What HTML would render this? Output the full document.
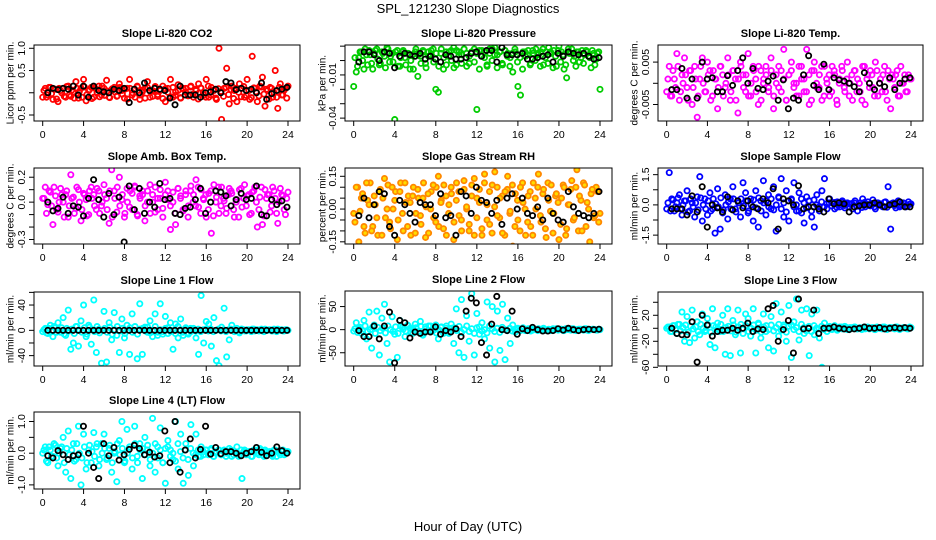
<!DOCTYPE html>
<html><head><meta charset="utf-8"><style>
body{margin:0;background:#fff;}
svg{display:block;font-family:"Liberation Sans",sans-serif;}
</style></head><body>
<svg id="fig" width="936" height="540" viewBox="0 0 936 540">
<text x="468" y="13" text-anchor="middle" font-size="13">SPL_121230  Slope Diagnostics</text>
<text x="468" y="531" text-anchor="middle" font-size="13">Hour of Day (UTC)</text>
</svg>
<script>
const xTicks=[0,4,8,12,16,20,24];
const co2Vals=[-0.1,0.1,-0.05,0.12,-0.15,0.08,-0.2,0.05,0.1,-0.1,0.15,-0.08,0.02,0.25,-0.12,0.1,0.3,-0.18,0.05,0.12,-0.1,0.08,0.15,-0.05,0.1,0.28,-0.1,0.05,0.12,-0.08,0.2,0.05,-0.12,0.1,0.3,-0.05,0.08,0.15,-0.15,0.02,0.1,0.25,-0.1,0.05,0.12,-0.08,0.05,0.15,-0.2,0.1,0.3,-0.1,0.02,0.18,-0.12,0.08,0.1,-0.05,0.15,-0.1,0.05,0.2,0.1,-0.05,0.3,-0.1,0.12,0.05,-0.15,1.0,-0.6,0.1,0.55,-0.25,0.15,0.05,-0.2,0.2,0.1,-0.1,0.3,-0.15,0.82,0.1,-0.2,0.15,0.35,-0.3,0.05,0.12,-0.1,0.5,-0.35,0.2,-0.05,0.1,0.15];
const co2Core=[0.05,-0.1,0.12,-0.02,0.08,-0.14,0.1,0.0,-0.08,0.14,-0.05,0.06,-0.12,0.1,0.03,-0.1,0.13,-0.04,0.07,-0.13,0.11,0.01,-0.09,0.15,-0.06,0.04,-0.11,0.09,0.02,-0.07,0.12,-0.03,0.08,-0.14,0.1,0.0,-0.1,0.13,-0.05,0.06,-0.12,0.11,0.03,-0.08,0.14,-0.04,0.07,-0.13,0.09,0.01,-0.09,0.12,-0.06,0.05,-0.11,0.1,0.02,-0.07,0.13,-0.03,0.08,-0.14,0.11,0.0,-0.1,0.15,-0.05,0.06,-0.12,0.09,0.03,-0.08,0.12,-0.04,0.07,-0.13,0.1,0.01,-0.09,0.14,-0.06,0.05,-0.11,0.11,0.02,-0.07,0.13,-0.03,0.08,-0.14,0.1,0.0,-0.1,0.12,-0.05,0.06,-0.12];
const co2Black=[0,0.1,0.07,0.1,0.08,0.15,-0.05,0.15,-0.1,0.15,0.05,0.02,0.0,0.08,0.05,0.1,-0.22,0.08,0.0,0.22,0.05,0.1,0.08,0.05,-0.12,-0.27,0.15,-0.05,-0.05,-0.05,-0.1,0.0,0.02,0.08,0.0,0.25,0.22,0.07,0.1,0.05,0.08,0.0,0.22,-0.15,-0.02,0.05,0.08,0.12];
const presVals=[-0.018,-0.008,0.002,0.006,-0.006,0.004,0.007,-0.002,0.005,0.008,-0.003,0.006,0.003,0.009,-0.001,0.005,-0.041,0.007,-0.004,0.006,0.002,0.005,-0.006,0.004,0.006,-0.011,0.003,0.007,-0.002,0.006,0.004,0.008,-0.02,-0.022,0.005,-0.006,0.006,0.003,0.007,0.009,-0.003,0.006,0.004,0.008,0.005,-0.002,0.006,0.008,-0.034,0.007,0.003,0.006,-0.004,0.005,0.008,0.009,0.004,0.006,-0.003,0.007,0.005,0.002,-0.008,0.006,-0.018,-0.024,0.006,0.003,0.007,-0.002,0.005,0.008,0.004,0.006,-0.003,0.006,0.009,0.005,0.007,-0.004,0.01,0.006,-0.006,-0.012,0.005,0.008,0.003,0.006,-0.001,0.007,0.004,0.006,0.002,0.007,-0.003,0.005,-0.02];
const presCore=[0.002,-0.004,0.006,0.0,0.008,-0.003,0.004,-0.006,0.007,0.001,-0.002,0.005,-0.005,0.008,0.003,-0.001,0.006,-0.004,0.002,0.007,-0.003,0.005,0.0,-0.006,0.008,0.004,-0.002,0.006,-0.005,0.003,0.007,-0.001,0.005,-0.004,0.008,0.002,-0.003,0.006,0.0,-0.005,0.007,0.004,-0.002,0.008,-0.004,0.003,0.006,-0.001,0.005,-0.006,0.007,0.002,-0.003,0.008,0.0,0.004,-0.005,0.006,-0.002,0.007,0.003,-0.004,0.005,0.008,-0.001,0.002,-0.006,0.006,0.004,-0.003,0.007,0.0,0.005,-0.004,0.008,0.002,-0.002,0.006,-0.005,0.003,0.007,-0.001,0.004,-0.003,0.008,0.005,0.0,-0.004,0.006,0.002,-0.002,0.007,0.003,-0.005,0.005,0.001,0.006];
const presBlack=[-0.001,0.006,0.006,0.004,0.0,0.006,0.005,-0.005,0.003,0.005,0.004,0.003,0.005,0.001,0.003,0.001,-0.001,0.004,0.003,0.001,0.001,0.002,0.005,0.006,0.003,0.007,0.007,-0.001,0.009,0.004,0.004,0.004,0.005,0.001,0.001,0.002,0.003,0.004,-0.001,0.005,0.003,0.006,0.005,0.004,0.005,0.003,0.001,0.002];
const tempVals=[-0.002,0.004,-0.003,0.001,0.007,-0.004,0.002,0.006,-0.001,0.003,-0.005,0.004,-0.008,0.001,0.006,-0.002,0.005,0.003,-0.003,0.001,-0.006,0.004,0.002,-0.001,0.006,-0.004,0.003,0.001,-0.007,0.005,0.002,-0.002,0.007,-0.003,0.004,0.001,-0.005,0.003,0.0,0.004,-0.002,0.006,-0.006,0.002,-0.001,0.003,0.008,-0.004,0.002,0.005,0.0,-0.003,0.004,0.001,-0.002,0.008,-0.005,0.003,0.005,-0.001,0.002,-0.004,0.004,0.0,-0.003,0.004,0.002,-0.005,0.001,0.003,-0.002,0.005,0.0,-0.004,0.003,0.001,-0.002,0.004,-0.005,0.002,0.003,-0.001,0.005,-0.003,0.001,0.002,-0.002,0.003,-0.006,0.001,0.002,-0.003,0.004,0.0,-0.002,0.002,0.001];
const tempCore=[0.001,-0.003,0.003,-0.001,0.004,-0.002,0.0,0.002,-0.004,0.003,-0.001,0.001,-0.003,0.004,0.0,-0.002,0.002,-0.004,0.003,0.001,-0.001,0.004,-0.003,0.0,0.002,-0.002,0.003,-0.004,0.001,0.004,-0.001,0.002,-0.003,0.0,0.003,-0.002,0.004,-0.004,0.001,0.002,-0.001,0.003,-0.003,0.0,0.004,-0.002,0.001,-0.004,0.002,0.003,-0.001,0.0,-0.003,0.004,0.001,-0.002,0.002,-0.004,0.003,0.0,-0.001,0.004,-0.003,0.001,0.002,-0.002,0.003,-0.004,0.0,0.004,-0.001,0.001,-0.003,0.002,0.003,-0.002,0.0,-0.004,0.004,0.001,-0.001,0.002,-0.003,0.003,0.0,-0.002,0.004,-0.004,0.001,0.002,-0.001,0.003,-0.003,0.0,0.002,-0.002,0.001];
const tempBlack=[-0.0015,-0.0015,0.0035,-0.0035,0.001,-0.0035,0.005,0.001,0.0013,-0.002,-0.002,0.0018,-0.0005,0.003,0.006,0.0,0.0035,-0.0012,-0.0015,0.0005,0.0017,-0.004,0.0008,-0.006,-0.0035,-0.004,0.002,0.0065,-0.0005,-0.0015,0.0045,-0.0015,0.0013,0.0008,0.0005,0.0,-0.0008,-0.002,0.0025,0.0,-0.0015,0.0,-0.0008,0.0013,-0.0015,0.0,0.001,0.0013];
const boxVals=[0.03,0.12,-0.02,0.08,-0.18,0.05,-0.08,0.11,0.0,0.06,-0.12,0.22,0.04,-0.05,0.1,-0.15,0.07,0.02,-0.1,0.12,0.06,-0.06,0.09,-0.03,0.14,0.03,-0.17,0.26,0.09,-0.08,0.2,0.02,-0.12,0.11,-0.04,0.07,0.13,-0.1,0.05,0.09,-0.15,0.0,0.14,0.06,-0.08,0.03,0.1,-0.05,0.16,0.02,-0.22,0.08,-0.18,0.11,0.05,-0.07,0.09,-0.03,0.13,0.06,0.18,-0.04,0.1,0.02,-0.12,0.07,-0.25,0.14,0.04,-0.09,0.12,0.01,-0.05,0.11,0.07,-0.12,0.02,0.1,-0.04,0.14,0.05,-0.1,0.08,0.12,-0.2,0.04,-0.18,0.1,0.06,-0.08,0.12,0.03,-0.17,0.11,0.05,-0.1,0.08];
const boxCore=[0.03,-0.09,0.09,-0.03,0.12,-0.06,0.0,0.06,-0.12,0.09,-0.03,0.03,-0.09,0.12,0.0,-0.06,0.06,-0.11,0.09,0.03,-0.03,0.11,-0.09,0.0,0.06,-0.06,0.09,-0.12,0.03,0.12,-0.03,0.06,-0.09,0.0,0.09,-0.06,0.12,-0.11,0.03,0.06,-0.03,0.09,-0.09,0.0,0.12,-0.06,0.03,-0.12,0.06,0.09,-0.03,0.0,-0.09,0.11,0.03,-0.06,0.06,-0.12,0.09,0.0,-0.03,0.12,-0.09,0.03,0.06,-0.06,0.09,-0.11,0.0,0.12,-0.03,0.03,-0.09,0.06,0.09,-0.06,0.0,-0.12,0.11,0.03,-0.03,0.06,-0.09,0.09,0.0,-0.06,0.12,-0.11,0.03,0.06,-0.03,0.09,-0.09,0.0,0.06,-0.06,0.03];
const boxBlack=[0.0,-0.07,-0.05,0.04,-0.09,-0.03,-0.04,-0.11,0.03,0.18,0.02,-0.12,0.07,-0.1,0.04,-0.32,0.13,-0.06,0.11,-0.09,0.0,-0.04,0.15,0.02,0.03,-0.09,-0.1,-0.05,-0.04,0.02,0.11,-0.09,0.0,0.09,0.08,0.05,-0.03,0.02,0.07,0.02,0.03,0.13,-0.1,-0.11,0.02,-0.02,0.01,-0.04];
const rhVals=[-0.02,0.1,-0.15,0.05,-0.08,0.12,0.02,-0.1,0.06,-0.04,0.08,-0.12,0.14,0.0,-0.06,0.1,0.04,-0.14,0.08,-0.02,0.12,-0.08,0.03,0.06,-0.11,0.09,-0.03,0.05,-0.13,0.07,0.0,0.11,-0.06,0.15,0.03,-0.09,0.06,-0.02,0.1,-0.14,0.04,0.08,-0.05,0.13,0.01,-0.1,0.06,0.14,-0.04,0.09,-0.12,0.16,0.02,-0.07,0.11,0.17,-0.03,0.05,-0.11,0.08,0.15,-0.01,-0.17,0.07,-0.05,0.1,0.03,-0.12,0.06,-0.08,0.12,0.0,0.16,-0.06,0.09,-0.13,0.04,0.11,-0.02,0.07,-0.14,0.05,0.1,-0.09,0.02,0.13,-0.04,0.18,0.06,-0.1,0.11,0.03,-0.15,0.09,-0.03,0.08,-0.02];
const rhCore=[-0.06,0.1,-0.01,0.07,-0.11,0.04,0.12,-0.08,0.02,-0.12,0.09,0.05,-0.04,0.11,-0.09,0.0,0.08,-0.05,0.12,-0.1,0.03,0.06,-0.12,0.1,-0.02,0.05,-0.07,0.12,0.01,-0.11,0.08,-0.04,0.1,-0.08,0.04,0.11,-0.12,0.02,0.07,-0.06,0.12,-0.03,-0.1,0.09,0.0,-0.07,0.11,-0.12,0.05,0.03,-0.09,0.12,-0.05,0.08,-0.11,0.01,0.1,-0.04,0.06,-0.12,0.09,-0.02,0.11,-0.08,0.04,-0.1,0.12,0.0,-0.06,0.08,-0.12,0.05,0.1,-0.03,0.07,-0.09,0.12,-0.01,-0.11,0.06,0.03,-0.07,0.11,-0.12,0.02,0.09,-0.05,0.1,-0.1,0.04,0.12,-0.08,0.0,0.07,-0.04,0.1,-0.06];
const rhBlack=[-0.03,0.05,-0.04,0.02,0.08,0.07,-0.08,-0.12,0.04,0.02,-0.02,-0.06,0.03,0.02,0.02,-0.03,0.07,-0.04,-0.03,-0.12,0.08,0.06,-0.02,0.1,0.04,0.03,-0.02,0.04,-0.07,0.05,0.07,0.0,0.05,-0.02,-0.03,0.01,-0.05,0.05,-0.02,-0.05,-0.06,0.08,0.01,-0.02,-0.03,-0.04,-0.02,0.08];
const sfVals=[-0.2,1.6,0.3,-0.3,0.1,0.5,-0.5,0.2,0.7,-0.3,0.1,-0.6,0.4,1.4,-0.8,0.3,-0.5,0.6,-0.2,-1.4,0.8,-1.2,-0.4,0.5,-0.7,0.3,0.9,-0.2,0.2,-0.6,1.1,0.6,-0.4,0.3,-0.8,0.7,-1.1,0.2,1.2,-0.5,0.5,-0.2,0.9,-1.3,0.4,1.3,-0.6,0.7,-0.8,0.3,1.1,-0.3,0.6,-0.4,-0.9,0.4,0.2,-0.6,-1.1,0.5,-0.3,0.7,1.3,-0.2,0.3,0.1,-0.2,0.15,-0.1,0.2,-0.15,0.1,0.05,-0.2,0.2,-0.3,0.1,0.3,-0.1,0.15,-0.05,0.25,-0.2,0.1,0.05,-0.1,0.15,0.9,-1.2,0.1,-0.15,0.2,-0.05,0.1,-0.1,0.15,0.05];
const sfCore=[0.1,-0.3,0.25,-0.1,0.35,-0.2,0.0,0.2,-0.35,0.3,-0.1,0.1,-0.25,0.35,0.0,-0.2,0.2,-0.3,0.3,0.05,-0.1,0.35,-0.25,0.0,0.15,-0.2,0.3,-0.35,0.1,0.3,-0.05,0.2,-0.3,0.0,0.25,-0.15,0.35,-0.3,0.1,0.2,-0.1,0.3,-0.25,0.0,0.35,-0.2,0.1,-0.35,0.2,0.25,-0.1,0.0,-0.3,0.3,0.1,-0.15,0.2,-0.3,0.25,0.0,-0.1,0.15,-0.1,0.05,0.1,-0.05,0.12,-0.12,0.0,0.13,-0.03,0.04,-0.1,0.07,0.1,-0.07,0.0,-0.13,0.12,0.03,-0.03,0.07,-0.1,0.1,0.0,-0.07,0.13,-0.12,0.03,0.07,-0.03,0.1,-0.1,0.0,0.07,-0.07,0.03];
const sfBlack=[-0.2,-0.2,-0.2,-0.5,0.45,-0.35,0.9,-1.1,0.0,-0.15,-0.35,0.4,-0.25,0.2,-0.15,0.2,-0.1,-0.2,0.3,0.1,0.8,-1.2,0.3,0.2,0.0,0.95,-0.2,-0.1,-0.1,-0.2,-0.35,0.3,0.05,0.1,0.05,-0.35,-0.1,-0.05,0.0,0.0,0.1,0.0,-0.1,0.0,0.05,0.15,-0.1,-0.1];
const l1Vals=[-2,3,-5,8,-10,4,12,-3,20,-8,32,-30,-20,6,-25,15,40,-10,8,-22,48,-35,2,-52,30,-50,12,-15,28,-8,-35,18,-12,8,-38,26,0,-45,42,-38,5,-3,15,-10,26,-8,42,-2,22,-5,12,-30,10,-12,18,-8,4,-6,-2,3,-12,-38,55,-20,14,10,-25,20,-48,-56,5,35,-42,-15,8,-2,3,-4,2,-1,1,0,2,-1,1,0,-1,2,0,1,-1,0,2,0,-1,1,0];
const l1Core=[1,-4,3,-2,6,-3,0,4,-6,3,-1,2,-5,6,0,-3,4,-6,5,1,-2,6,-4,0,3,-3,5,-6,1,6,-1,3,-5,0,4,-3,6,-6,2,3,-1,5,-4,0,6,-3,1,-6,3,4,-2,0,-5,6,1,-3,2,-4,3,0,-1,2,-2,1,2,-1,2,-2,0,2,-1,1,-2,1,2,-1,0,-2,2,1,-1,1,-2,2,0,-1,2,-2,1,1,-1,2,-2,0,1,-1,1];
const l1Black=[0,0,0,0,0,0,0,0,0,0,0,0,0,0,0,0,0,0,0,0,0,0,0,0,0,0,0,0,0,0,0,0,0,0,0,0,0,0,0,0,0,0,0,0,0,0,0,0];
const l2Vals=[-3,15,2,-8,20,-20,38,-40,10,40,-55,25,55,-30,-70,28,-10,-60,20,5,-15,10,3,-8,12,-5,18,-12,6,-3,8,-2,10,-20,5,-8,3,-4,12,-30,45,-50,65,-60,30,-25,78,-55,35,-10,15,-20,60,-40,50,-70,40,-45,55,-65,25,-30,10,-5,3,-2,4,-1,2,-3,1,0,2,-1,3,-2,1,0,-1,2,0,1,-2,0,1,2,-1,0,1,0,2,-1,0,1,0,-1,0];
const l2Core=[2,-6,5,-3,8,-4,0,6,-8,5,-2,3,-7,8,0,-4,6,-8,7,1,-3,8,-6,0,4,-4,7,-8,2,8,-2,4,-7,0,6,-4,8,-8,3,4,-2,7,-6,0,8,-4,2,-8,4,6,-3,0,-7,8,2,-4,3,-6,5,0,-2,3,-3,1,2,-1,2,-2,0,2,-1,1,-2,1,2,-1,0,-2,2,1,-1,1,-2,2,0,-1,2,-2,1,1,-1,2,-2,0,1,-1,1];
const l2Black=[-2,-15,-15,8,-20,8,38,-72,20,15,-18,-5,-8,-5,-5,6,-10,-2,-5,2,-15,40,68,58,-28,-55,12,72,0,-2,40,-10,2,-2,5,0,-3,-3,-2,2,-1,3,0,-2,0,1,0,1];
const l3Vals=[0,2,-5,4,-8,6,25,-20,18,-22,28,-15,10,-10,22,-5,15,-25,30,-30,8,-5,20,-40,30,-42,12,-10,28,-38,-8,22,15,-12,30,-38,8,-15,22,-5,-30,18,-35,38,-12,25,5,-20,35,-45,10,45,-18,28,-8,30,-42,22,-10,28,-15,-60,8,-5,3,-2,4,-3,2,-1,3,-2,1,0,2,-1,1,0,-1,2,0,1,-2,0,1,2,-1,0,1,0,2,-1,0,1,0,-1,1];
const l3Core=[2,-5,4,-2,6,-4,1,5,-6,3,-1,2,-5,6,0,-3,5,-6,4,2,-2,6,-5,1,3,-4,5,-6,2,6,-1,4,-5,0,5,-3,6,-6,2,4,-2,5,-4,1,6,-3,2,-6,3,5,-2,1,-5,6,1,-4,3,-5,4,0,-1,3,-2,1,2,-1,2,-1,0,2,-1,1,-2,1,2,-1,0,-2,2,1,-1,1,-2,2,0,-1,2,-2,1,1,-1,2,-2,0,1,-1,2];
const l3Black=[0,-8,-10,-10,10,-52,20,5,-12,-5,-3,-3,0,-3,0,8,-5,-1,-2,30,35,-20,-2,12,-38,45,-1,0,28,-8,0,0,2,0,-1,-2,-1,0,2,0,0,1,-1,0,1,0,1,0];
const l4Vals=[0.0,0.2,-0.3,0.1,-0.1,0.25,-0.4,0.15,0.5,-0.6,0.7,-0.8,0.3,-0.2,0.85,-1.0,0.6,-0.5,0.1,-0.3,0.65,0.2,-0.4,0.3,0.6,-0.2,0.15,-0.6,0.0,-0.9,0.4,1.0,-0.3,0.75,0.2,-0.5,0.85,-0.1,0.3,-0.8,0.5,0.1,-0.4,1.1,-0.6,0.2,0.8,-0.3,-0.95,0.4,0.1,-0.2,1.0,-0.5,0.6,-0.95,0.3,-0.7,0.9,-0.4,0.6,-0.1,0.2,-0.05,0.1,0.0,0.15,-0.1,0.05,0.1,-0.05,0.1,0.0,0.15,-0.1,0.05,0.2,-0.05,-0.8,0.1,0.0,0.05,-0.1,0.1,0.0,0.15,-0.05,0.1,0.0,0.05,-0.1,0.1,0.05,-0.05,0.1,0.0,0.05];
const l4Core=[0.1,-0.25,0.2,-0.1,0.3,-0.15,0.0,0.2,-0.3,0.15,-0.05,0.1,-0.25,0.3,0.0,-0.15,0.2,-0.3,0.25,0.05,-0.1,0.3,-0.2,0.0,0.15,-0.15,0.25,-0.3,0.05,0.3,-0.05,0.15,-0.25,0.0,0.2,-0.15,0.3,-0.3,0.1,0.15,-0.05,0.25,-0.2,0.0,0.3,-0.15,0.1,-0.3,0.15,0.2,-0.1,0.0,-0.25,0.3,0.05,-0.15,0.1,-0.2,0.15,0.0,-0.05,0.1,-0.1,0.05,0.1,-0.05,0.1,-0.1,0.0,0.1,-0.05,0.05,-0.1,0.05,0.1,-0.05,0.0,-0.1,0.1,0.05,-0.05,0.05,-0.1,0.1,0.0,-0.05,0.1,-0.1,0.05,0.05,-0.05,0.1,-0.1,0.0,0.05,-0.05,0.05];
const l4Black=[-0.08,-0.15,0.08,-0.05,-0.2,-0.08,-0.05,0.85,0.0,-0.45,-0.8,0.3,-0.08,0.18,-0.22,-0.05,0.12,0.25,0.15,-0.05,0.03,-0.12,-0.08,0.7,-0.3,1.0,-0.6,0.1,0.45,-0.15,0.12,0.85,-0.03,0.18,-0.02,0.05,0.05,0.0,-0.08,0.0,0.05,0.18,0.03,-0.08,0.0,0.2,0.08,0.0];

const panels=[
 {id:'co2',title:'Slope Li-820 CO2',ylab:'Licor ppm per min.',box:[34,45,300,121],ytop:1.074,ybot:-0.635,yt:[1.0,0.5,0,-0.5],yl:['1.0','0.5','','-0.5'],col:'#ff0000',fill:'none',v:co2Vals,c:co2Core,b:co2Black,ylx:10},
 {id:'pressure',title:'Slope Li-820 Pressure',ylab:'kPa per min.',box:[345,45,612,121],ytop:0.0108,ybot:-0.042,yt:[0.01,0,-0.01,-0.02,-0.03,-0.04],yl:['','','-0.01','','','-0.04'],col:'#00cc00',fill:'none',v:presVals,c:presCore,b:presBlack,ylx:322},
 {id:'temp',title:'Slope Li-820 Temp.',ylab:'degrees C per min.',box:[658,45,923,121],ytop:0.00903,ybot:-0.00889,yt:[0.005,0,-0.005],yl:['0.005','','-0.005'],col:'#ff00ff',fill:'none',v:tempVals,c:tempCore,b:tempBlack,ylx:634},
 {id:'ambbox',title:'Slope Amb. Box Temp.',ylab:'degrees C per min.',box:[34,168,300,244],ytop:0.274,ybot:-0.336,yt:[0.2,0.1,0,-0.1,-0.2,-0.3],yl:['0.2','','0.0','','','-0.3'],col:'#ff00ff',fill:'none',v:boxVals,c:boxCore,b:boxBlack,ylx:10},
 {id:'rh',title:'Slope Gas Stream RH',ylab:'percent per min.',box:[345,168,612,244],ytop:0.188,ybot:-0.16,yt:[0.15,0.1,0.05,0,-0.05,-0.1,-0.15],yl:['0.15','','','0.00','','','-0.15'],col:'#ff8800',fill:'#ffdd00',v:rhVals,c:rhCore,b:rhBlack,ylx:322},
 {id:'sampleflow',title:'Slope Sample Flow',ylab:'ml/min per min.',box:[658,168,923,244],ytop:1.83,ybot:-1.94,yt:[1.5,0.75,0,-0.75,-1.5],yl:['1.5','','0.0','','-1.5'],col:'#0000ff',fill:'none',v:sfVals,c:sfCore,b:sfBlack,ylx:634},
 {id:'line1',title:'Slope Line 1 Flow',ylab:'ml/min per min.',box:[34,292,300,366],ytop:60.6,ybot:-56.4,yt:[60,40,20,0,-20,-40],yl:['','40','','0','','-40'],col:'#00ffff',fill:'none',v:l1Vals,c:l1Core,b:l1Black,ylx:10},
 {id:'line2',title:'Slope Line 2 Flow',ylab:'ml/min per min.',box:[345,291,612,366],ytop:83.7,ybot:-78.7,yt:[50,0,-50],yl:['50','0','-50'],col:'#00ffff',fill:'none',v:l2Vals,c:l2Core,b:l2Black,ylx:322},
 {id:'line3',title:'Slope Line 3 Flow',ylab:'ml/min per min.',box:[658,292,923,366],ytop:55.8,ybot:-58,yt:[40,20,0,-20,-40,-60],yl:['','20','','-20','','-60'],col:'#00ffff',fill:'none',v:l3Vals,c:l3Core,b:l3Black,ylx:634},
 {id:'line4',title:'Slope Line 4 (LT) Flow',ylab:'ml/min per min.',box:[34,412,300,489],ytop:1.30,ybot:-1.13,yt:[1.0,0.5,0,-0.5,-1.0],yl:['1.0','','0.0','','-1.0'],col:'#00ffff',fill:'none',v:l4Vals,c:l4Core,b:l4Black,ylx:10}
];
const NS='http://www.w3.org/2000/svg';
const svg=document.getElementById('fig');
function mk(tag,attrs,parent){const e=document.createElementNS(NS,tag);for(const k in attrs)e.setAttribute(k,attrs[k]);(parent||svg).appendChild(e);return e;}
panels.forEach(p=>{
  const [L,T,R,B]=p.box;
  const x0=L+8.7, x1=R-12;
  const sx=h=>x0+(x1-x0)*h/24;
  const sy=v=>T+(B-T)*(p.ytop-v)/(p.ytop-p.ybot);
  const g=mk('g',{});
  
  
  const cp=mk('clipPath',{id:'cp-'+p.id},g);
  mk('rect',{x:L,y:T,width:R-L,height:B-T},cp);
  const pts=mk('g',{'clip-path':'url(#cp-'+p.id+')'},g);
  
  
  const nc=p.c.length;
  p.c.forEach((v,i)=>{
    const c=mk('circle',{cx:sx(24*(i+0.5)/nc),cy:sy(v),r:2.6,fill:p.fill,stroke:p.col,'stroke-width':1.8},pts);
    
    
  });
  const n=p.v.length;
  p.v.forEach((v,i)=>{
    const c=mk('circle',{cx:sx(24*i/(n-1)),cy:sy(v),r:2.6,fill:p.fill,stroke:p.col,'stroke-width':1.8},pts);
    
    
  });
  const m=p.b.length;
  p.b.forEach((v,i)=>{
    const c=mk('circle',{cx:sx(0.5+23.4*i/(m-1)),cy:sy(v),r:2.6,fill:'none',stroke:'#000','stroke-width':1.8},pts);
    
    
  });
  const box=mk('rect',{x:L,y:T,width:R-L,height:B-T,fill:'none',stroke:'#000','stroke-width':1},g);
  
  
  const t=mk('text',{x:(L+R)/2,y:T-8,'text-anchor':'middle','font-size':11,'font-weight':'bold'},g);
  t.textContent=p.title;
  
  
  xTicks.forEach(h=>{
    mk('line',{x1:sx(h),x2:sx(h),y1:B,y2:B+5,stroke:'#000'},g);
    const tl=mk('text',{x:sx(h),y:B+17,'text-anchor':'middle','font-size':10.5},g);
    tl.textContent=h;
    
    
  });
  p.yt.forEach((v,i)=>{
    const y=sy(v);
    mk('line',{x1:L-5,x2:L,y1:y,y2:y,stroke:'#000'},g);
    if(p.yl[i]){
      const tl=mk('text',{x:L-9,y:y,'text-anchor':'middle','font-size':10.5,transform:'rotate(-90 '+(L-9)+' '+y+')'},g);
      tl.textContent=p.yl[i];
      
      
    }
  });
  const cy=(T+B)/2;
  const yl=mk('text',{x:p.ylx,y:cy,'text-anchor':'middle','font-size':10,transform:'rotate(-90 '+p.ylx+' '+cy+')',dy:'0.35em'},g);
  yl.textContent=p.ylab;
  
  
});
</script>
</body></html>
